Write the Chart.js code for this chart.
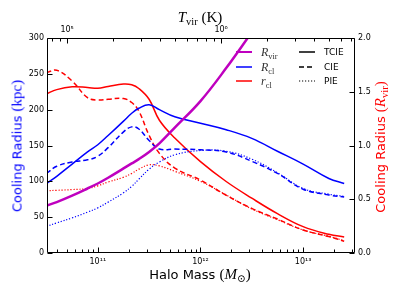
<!DOCTYPE html>
<html>
<head>
<meta charset="utf-8">
<script src="https://cdn.jsdelivr.net/npm/chart.js@4"></script>
<style>
  body { margin: 0; background: #fff; }
  #wrap { position: relative; width: 399px; height: 299px; }
  .lbl { position: absolute; white-space: nowrap; font-family: "DejaVu Sans", sans-serif; }
  .m { font-family: "Liberation Serif", "DejaVu Serif", serif; }
  .m i { font-style: italic; }
  .m sub { font-size: 70%; vertical-align: -0.3em; line-height: 0; }
  .rot { transform: translate(-50%, -50%) rotate(-90deg); }
  .ctr { transform: translate(-50%, -50%); }
  .leg { position: absolute; font-size: 9px; line-height: 12px; }
</style>
</head>
<body>
<div id="wrap">
  <canvas id="myChart" width="399" height="299"></canvas>

  <div class="lbl ctr" style="left:200px;top:17px;font-size:15px;"><span class="m"><i>T</i><sub>vir</sub> (K)</span></div>
  <div class="lbl ctr" style="left:200px;top:274px;font-size:13px;">Halo Mass <span class="m" style="font-size:15px">(<i>M</i><sub>⊙</sub>)</span></div>
  <div class="lbl rot" style="left:17px;top:146px;font-size:13px;color:#0000ff;">Cooling Radius <span class="m" style="font-size:15px">(kpc)</span></div>
  <div class="lbl rot" style="left:380px;top:147px;font-size:13px;color:#ff0000;">Cooling Radius <span class="m" style="font-size:15px">(<i>R</i><sub>vir</sub>)</span></div>

  <div id="legend"></div>
</div>

<script>
// Set Data
// halo mass grid (M_sun)
const mass = [3.16e10, 3.98e10, 5.62e10, 7.94e10, 1e11, 1.26e11, 1.78e11, 2.14e11, 2.51e11,
  3.16e11, 3.98e11, 5.62e11, 1e12, 1.78e12, 3.16e12, 5.62e12, 1e13, 1.78e13, 2.51e13];

// left axis (kpc)
const rVir = [66, 71, 80, 90, 97, 105, 118, 125, 131, 141, 153, 175, 212, 258, 308];
const rclTCIE = [97, 107, 124, 141, 151, 164, 184, 195, 202, 207, 200, 190, 181, 172, 160, 142, 124, 104, 97];
const rclCIE = [111, 121, 127, 130, 135, 147, 169, 176, 173, 157, 145, 145, 144, 141, 128, 111, 89, 81, 78];
const rclPIE = [37, 42, 49, 57, 63, 71, 84, 93, 103, 117, 127, 137, 143, 142, 131, 112, 90, 82, 79];

// right axis (R_vir)
const rTCIE = [1.48, 1.52, 1.546, 1.54, 1.532, 1.549, 1.572, 1.565, 1.53, 1.43, 1.235, 1.07, 0.85, 0.665, 0.51, 0.366, 0.245, 0.174, 0.149];
const rCIE = [1.677, 1.70, 1.60, 1.445, 1.423, 1.43, 1.437, 1.40, 1.32, 1.095, 0.927, 0.79, 0.678, 0.537, 0.415, 0.316, 0.214, 0.153, 0.11];
const rPIE = [0.58, 0.583, 0.59, 0.60, 0.625, 0.66, 0.705, 0.74, 0.78, 0.82, 0.81, 0.76, 0.667, 0.54, 0.41, 0.31, 0.214, 0.155, 0.115];

// axis limits and ticks
const massMin = 3.2e10, massMax = 3.2e13;
const tvirMin = 7.4e4, tvirMax = 7.4e6;
const massTicks = [1e11, 1e12, 1e13];
const tvirTicks = [1e5, 1e6];
const kpcTicks = [0, 50, 100, 150, 200, 250, 300];
const ratioTicks = [0, 0.5, 1.0, 1.5, 2.0];

const BLUE = "#0000ff", RED = "#ff0000", MAG = "#bf00bf";
const DASH = [5, 3], DOT = [1.2, 1.8];

function pts(vals) {
  return vals.map((v, i) => ({ x: mass[i], y: v }));
}

function sup(v) {
  const s = "⁰¹²³⁴⁵⁶⁷⁸⁹";
  const e = Math.round(Math.log10(v)).toString();
  return "10" + e.split("").map(c => s[+c]).join("");
}

function line(data, color, dash, width, axis) {
  return {
    data: pts(data),
    borderColor: color,
    borderWidth: width,
    borderDash: dash,
    yAxisID: axis,
    pointRadius: 0,
    fill: false,
    tension: 0.4,
  };
}

// inward ticks and frame, like the matplotlib original
const tickMarks = {
  id: "tickMarks",
  afterDatasetsDraw(chart) {
    const { ctx, chartArea: a, scales } = chart;
    const L = Math.round(a.left) + 0.5, R = Math.round(a.right) - 0.5;
    const T = Math.round(a.top) + 0.5, B = Math.round(a.bottom) - 0.5;
    ctx.save();
    ctx.strokeStyle = "#000";
    ctx.lineWidth = 1;
    ctx.beginPath();
    ctx.rect(L, T, R - L, B - T);

    function logTicks(scale, y0, dir) {
      const lo = Math.floor(Math.log10(scale.min)), hi = Math.ceil(Math.log10(scale.max));
      for (let d = lo; d <= hi; d++) {
        for (let k = 1; k <= 9; k++) {
          const v = k * Math.pow(10, d);
          if (v < scale.min || v > scale.max) continue;
          const x = Math.round(scale.getPixelForValue(v)) + 0.5;
          const len = k === 1 ? 5 : 3;
          ctx.moveTo(x, y0);
          ctx.lineTo(x, y0 + dir * len);
        }
      }
    }
    logTicks(scales.x, B, -1);
    logTicks(scales.x2, T, 1);

    kpcTicks.forEach(v => {
      const y = Math.round(scales.y.getPixelForValue(v)) + 0.5;
      ctx.moveTo(L, y); ctx.lineTo(L + 5, y);
    });
    ratioTicks.forEach(v => {
      const y = Math.round(scales.y1.getPixelForValue(v)) + 0.5;
      ctx.moveTo(R, y); ctx.lineTo(R - 5, y);
    });
    ctx.stroke();
    ctx.restore();
  },
};

const tickFont = { family: "DejaVu Sans", size: 8 };
const noGrid = { display: false, drawTicks: false };
const noBorder = { display: false };

new Chart("myChart", {
  type: "line",
  data: {
    datasets: [
      line(rVir, MAG, [], 2.5, "y"),
      line(rclTCIE, BLUE, [], 1.5, "y"),
      line(rclCIE, BLUE, DASH, 1.5, "y"),
      line(rclPIE, BLUE, DOT, 1.2, "y"),
      line(rTCIE, RED, [], 1.5, "y1"),
      line(rCIE, RED, DASH, 1.5, "y1"),
      line(rPIE, RED, DOT, 1.2, "y1"),
    ],
  },
  options: {
    responsive: false,
    animation: false,
    devicePixelRatio: 1,
    layout: { padding: 0 },
    plugins: { legend: { display: false }, tooltip: { enabled: false } },
    scales: {
      x: {
        type: "logarithmic",
        position: "bottom",
        min: massMin,
        max: massMax,
        grid: noGrid,
        border: noBorder,
        afterBuildTicks: s => { s.ticks = massTicks.map(v => ({ value: v })); },
        afterFit: s => { s.height = 46; },
        ticks: { font: tickFont, color: "#000", padding: 4, autoSkip: false, maxRotation: 0, callback: v => sup(v) },
      },
      x2: {
        type: "logarithmic",
        position: "top",
        min: tvirMin,
        max: tvirMax,
        grid: noGrid,
        border: noBorder,
        afterBuildTicks: s => { s.ticks = tvirTicks.map(v => ({ value: v })); },
        afterFit: s => { s.height = 38; },
        ticks: { font: tickFont, color: "#000", padding: 3, autoSkip: false, maxRotation: 0, callback: v => sup(v) },
      },
      y: {
        position: "left",
        min: 0,
        max: 300,
        grid: noGrid,
        border: noBorder,
        afterBuildTicks: s => { s.ticks = kpcTicks.map(v => ({ value: v })); },
        afterFit: s => { s.width = 47; },
        ticks: { font: tickFont, color: "#000", padding: 3 },
      },
      y1: {
        position: "right",
        min: 0,
        max: 2,
        grid: noGrid,
        border: noBorder,
        afterBuildTicks: s => { s.ticks = ratioTicks.map(v => ({ value: v })); },
        afterFit: s => { s.width = 44; },
        ticks: { font: tickFont, color: "#000", padding: 3, callback: v => v.toFixed(1) },
      },
    },
  },
  plugins: [tickMarks],
});

// ----------------------Legend-----------------------
const legendRows = [
  { x: 236, y: 52, color: MAG, dash: "", w: 2, text: '<span class="m" style="font-size:12px;color:#333"><i>R</i><sub>vir</sub></span>' },
  { x: 236, y: 66.5, color: BLUE, dash: "", w: 1.5, text: '<span class="m" style="font-size:12px;color:#333"><i>R</i><sub>cl</sub></span>' },
  { x: 236, y: 81, color: RED, dash: "", w: 1.5, text: '<span class="m" style="font-size:12px;color:#333"><i>r</i><sub>cl</sub></span>' },
  { x: 299, y: 52, color: "#000", dash: "", w: 1.5, text: "TCIE" },
  { x: 299, y: 66.5, color: "#000", dash: "5,3", w: 1.5, text: "CIE" },
  { x: 299, y: 81, color: "#000", dash: "1.2,1.8", w: 1.2, text: "PIE" },
];
const legend = document.getElementById("legend");
legendRows.forEach(r => {
  const el = document.createElement("div");
  el.className = "leg lbl";
  el.style.left = r.x + "px";
  el.style.top = (r.y - 6) + "px";
  el.innerHTML =
    `<svg width="16" height="12" style="vertical-align:top"><line x1="0" y1="6" x2="16" y2="6" stroke="${r.color}" stroke-width="${r.w}" stroke-dasharray="${r.dash}"/></svg>` +
    `<span style="position:absolute;left:25px;top:0">${r.text}</span>`;
  legend.appendChild(el);
});
</script>
</body>
</html>
